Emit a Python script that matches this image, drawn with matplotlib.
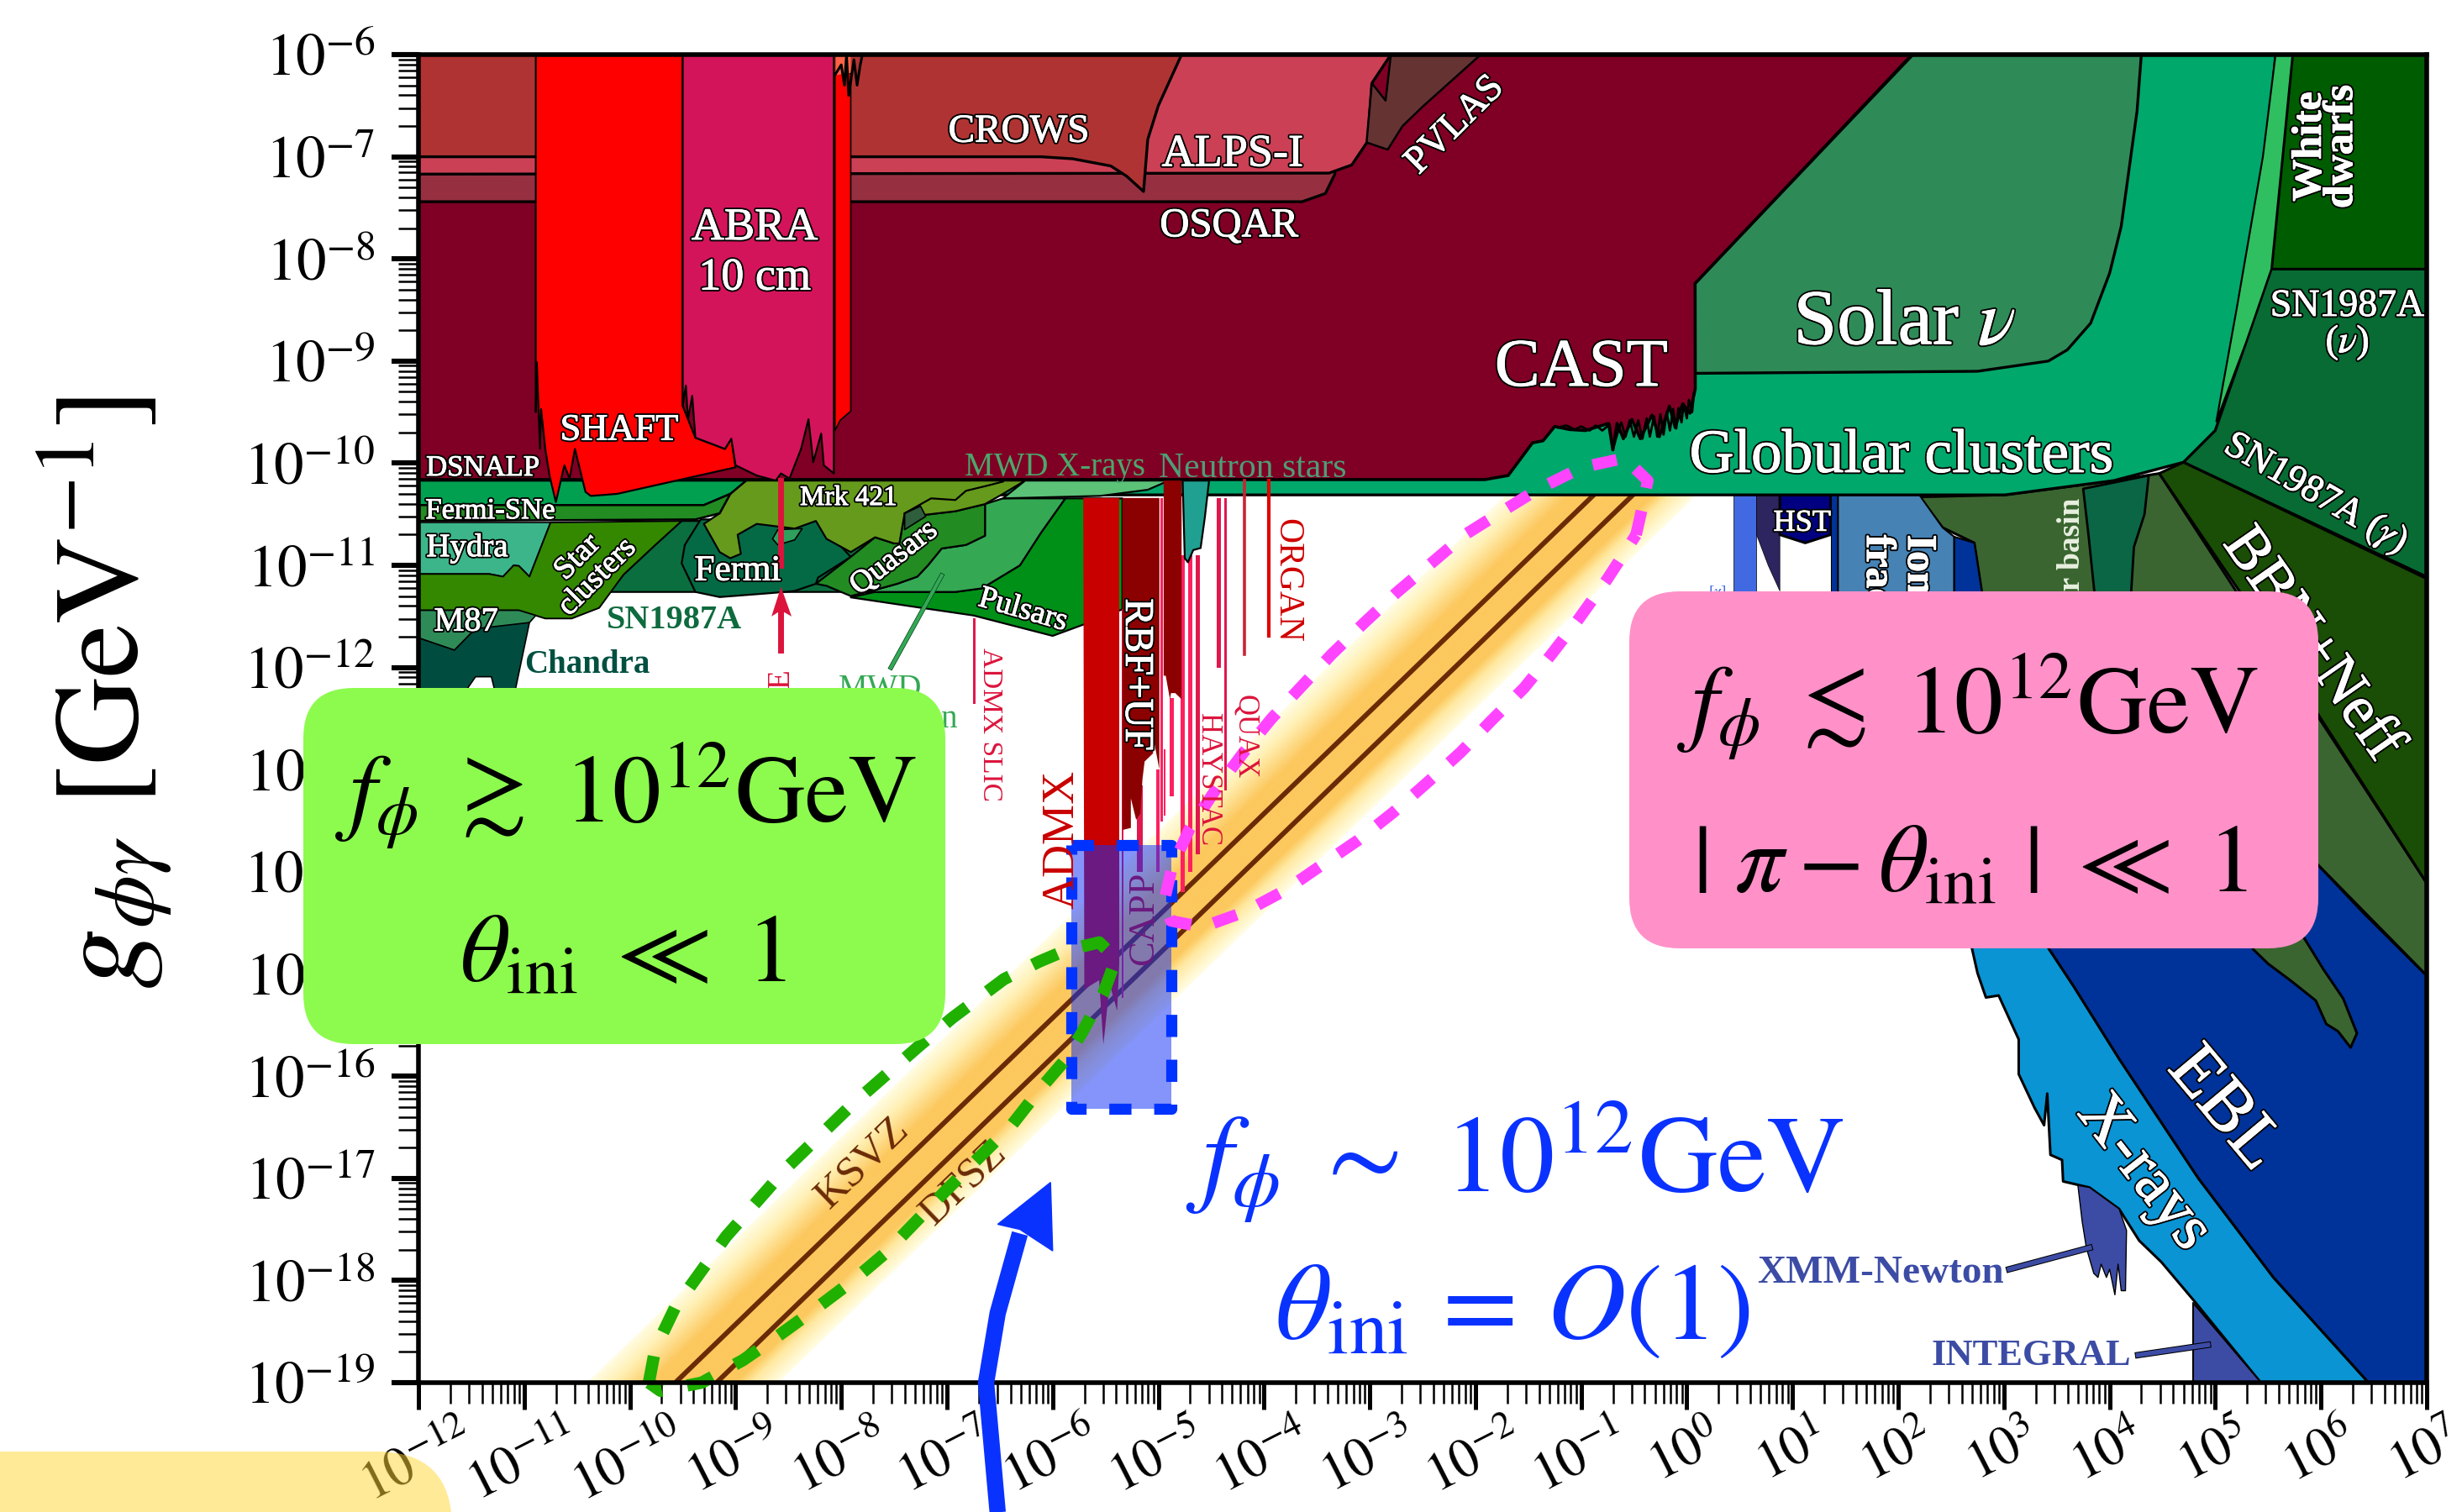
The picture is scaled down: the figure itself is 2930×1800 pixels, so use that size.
# Axion-like particle coupling limits with f_phi regions marked on top
import numpy as np
import matplotlib
matplotlib.use("Agg")
import matplotlib.pyplot as plt
import matplotlib.patheffects as pe
from matplotlib.patches import FancyBboxPatch
from matplotlib.ticker import FixedLocator, NullFormatter
from matplotlib.transforms import IdentityTransform

plt.rcParams['font.family'] = ['Liberation Serif', 'DejaVu Serif']
plt.rcParams['mathtext.fontset'] = 'stix'

# everything below is (log10 m, log10 g)
x_exponents = list(range(-12, 8))
y_exponents = list(range(-19, -5))

ksvz_line = [(-9.57, -19.0), (-0.88, -10.31)]
dfsz_line = [(-9.18, -19.0), (-0.51, -10.31)]
band_offsets = [-8.6, -8.85, -9.2, -10.0, -10.15, -10.4]
band_colors = ['#fffde4', '#ffefb0', '#fcc75a', '#fcc75a', '#ffe9a0', '#fffde4']

globular = [(-12, -6), (5.57, -6), (5.4, -8.0), (5.29, -8.82), (5.0, -9.68), (4.7, -9.99), (4.04, -10.17),
            (3.01, -10.31), (-12, -10.31)]
wd_strip = [(5.57, -6), (5.73, -6), (5.53, -8.1), (5.29, -8.82), (5.01, -9.59), (5.2, -8.5), (5.45, -7.0)]
white_dwarfs = [(5.73, -6), (7.1, -6), (7.1, -8.1), (5.53, -8.1)]
sn_nu = [(5.53, -8.1), (7.1, -8.1), (7.1, -11.16), (4.7, -9.99), (5.0, -9.68), (5.29, -8.82)]
bbn = [(4.7, -9.99), (7.1, -11.18), (7.1, -14.27), (5.98, -12.47), (5.24, -11.27), (4.47, -10.1)]
solar_nu = [(2.14, -6), (4.3, -6), (4.26, -6.55), (4.11, -7.68), (4.0, -8.14), (3.82, -8.63), (3.6, -8.89),
            (3.42, -9.0), (2.75, -9.1), (0.078, -9.12), (0.078, -8.24)]
cast = [(-12, -6), (2.13, -6), (0.078, -8.24), (0.08, -9.27), (0.03, -9.51), (-0.04, -9.42), (-0.11, -9.65),
        (-0.165, -9.44), (-0.26, -9.74), (-0.33, -9.53), (-0.44, -9.76), (-0.52, -9.57), (-0.6, -9.76),
        (-0.66, -9.61), (-0.7, -9.87), (-0.74, -9.61), (-0.96, -9.68), (-1.11, -9.67), (-1.25, -9.64),
        (-1.36, -9.78), (-1.46, -9.8), (-1.69, -10.12), (-1.91, -10.16), (-12, -10.16)]
cast_noise = [(0.07, -9.3), (0.05, -9.5), (0.02, -9.38), (0.0, -9.56), (-0.03, -9.42), (-0.05, -9.6), (-0.08, -9.46),
              (-0.1, -9.66), (-0.13, -9.47), (-0.16, -9.68), (-0.19, -9.5), (-0.22, -9.72), (-0.25, -9.52),
              (-0.28, -9.74), (-0.31, -9.54), (-0.35, -9.74), (-0.38, -9.56), (-0.42, -9.76), (-0.46, -9.58),
              (-0.5, -9.74), (-0.54, -9.58), (-0.58, -9.74), (-0.62, -9.6), (-0.66, -9.72), (-0.7, -9.87), (-0.73, -9.62),
              (-0.8, -9.68), (-0.86, -9.63), (-0.92, -9.68), (-1.0, -9.64), (-1.06, -9.67), (-1.14, -9.63), (-1.22, -9.65)]
osqar = [(-12, -7.0), (-3.33, -7.0), (-3.33, -7.17), (-3.42, -7.36), (-3.64, -7.44), (-12, -7.44)]
alps = [(-12, -6), (-2.8, -6), (-2.98, -6.28), (-3.02, -6.85), (-3.17, -7.08), (-3.385, -7.16), (-12, -7.17)]
crows = [(-12, -6), (-4.78, -6), (-5.0, -6.5), (-5.1, -6.83), (-5.14, -7.34), (-5.3, -7.19), (-5.45, -7.09),
         (-5.81, -7.02), (-6.11, -7.0), (-12, -7.0)]
pvlas = [(-2.8, -6), (-1.95, -6), (-2.5, -6.51), (-2.69, -6.7), (-2.83, -6.93), (-3.03, -6.86), (-2.98, -6.28),
         (-2.85, -6.45)]

shaft = [(-10.89, -6), (-9.5, -6), (-9.5, -9.44), (-9.38, -9.75), (-9.1, -9.86), (-9.04, -9.76), (-9.0, -10.04),
         (-9.56, -10.17), (-10.12, -10.3), (-10.37, -10.32), (-10.42, -10.28), (-10.52, -9.86), (-10.57, -10.15),
         (-10.62, -10.02), (-10.7, -10.38), (-10.76, -10.12), (-10.8, -9.86), (-10.84, -9.47), (-10.85, -9.86),
         (-10.88, -9.01), (-10.89, -9.5)]
abra = [(-9.5, -6), (-8.07, -6), (-8.07, -10.1), (-8.165, -10.02), (-8.19, -9.71), (-8.265, -9.99), (-8.31, -9.57),
        (-8.38, -9.86), (-8.49, -10.15), (-8.57, -10.1), (-8.62, -10.17), (-8.8, -10.12), (-9.0, -10.02),
        (-9.04, -9.76), (-9.1, -9.86), (-9.38, -9.75), (-9.41, -9.34), (-9.45, -9.57), (-9.47, -9.24), (-9.5, -9.44)]
red_sliver = [(-8.06, -6.18), (-7.91, -6.18), (-7.91, -9.49), (-8.01, -9.58), (-8.06, -9.68)]
orange_top = [(-8.05, -6), (-7.91, -6), (-7.91, -6.18), (-8.05, -6.2)]
top_jag = [(-8.06, -6.2), (-8.0, -6.1), (-7.97, -6.3), (-7.95, -6.0), (-7.93, -6.4), (-7.88, -6.05), (-7.85, -6.3),
           (-7.82, -6.1), (-7.8, -6.0)]

fermi_top = [(-12, -10.17), (-8.9, -10.17), (-9.05, -10.30), (-9.3, -10.41), (-12, -10.41)]
fermi_sne = [(-12, -10.41), (-9.3, -10.41), (-9.05, -10.30), (-9.15, -10.49), (-9.38, -10.55), (-12, -10.565)]
hydra = [(-12, -10.58), (-10.75, -10.58), (-10.95, -11.11), (-11.05, -11.005), (-11.1, -11.0), (-11.2, -11.11),
         (-11.33, -11.084), (-12, -11.084)]
star_clusters = [(-10.75, -10.58), (-9.51, -10.565), (-9.76, -10.8), (-10.06, -11.09), (-10.29, -11.416),
                 (-10.55, -11.52), (-10.8, -11.52), (-11.05, -11.44), (-12, -11.44), (-12, -11.084),
                 (-11.33, -11.084), (-11.2, -11.11), (-11.1, -11.0), (-11.05, -11.005), (-10.95, -11.11)]
m87 = [(-12, -11.44), (-11.05, -11.44), (-10.89, -11.49), (-10.95, -11.56), (-11.23, -11.62), (-11.46, -11.62),
       (-11.66, -11.83), (-12, -11.71)]
chandra = [(-12, -11.71), (-11.66, -11.83), (-11.46, -11.62), (-10.95, -11.56), (-11.1, -12.3), (-11.26, -12.3),
           (-11.31, -12.09), (-11.46, -12.09), (-11.6, -12.3), (-12, -12.3)]
sn1987a = [(-9.51, -10.565), (-7.9, -10.565), (-7.0, -11.26), (-10.19, -11.26), (-10.06, -11.09), (-9.76, -10.8)]
fermi = [(-9.48, -10.8), (-9.51, -10.98), (-9.38, -11.26), (-9.15, -11.31), (-8.65, -11.27), (-8.44, -11.25),
         (-8.24, -11.18), (-8.22, -11.12), (-7.91, -10.917), (-8.24, -10.55), (-9.33, -10.55)]
mrk421 = [(-8.9, -10.17), (-6.26, -10.17), (-6.47, -10.3), (-6.64, -10.4), (-6.92, -10.47), (-7.25, -10.51),
          (-7.28, -10.45), (-7.4, -10.49), (-7.45, -10.785), (-7.5, -10.785), (-7.68, -10.725), (-7.91, -10.87),
          (-8.14, -10.74), (-8.24, -10.565), (-8.44, -10.64), (-8.8, -10.594), (-8.98, -10.7), (-8.95, -10.887),
          (-9.05, -10.93), (-9.15, -10.87), (-9.3, -10.594), (-9.15, -10.49), (-9.05, -10.30)]
mrk_inner = [(-7.4, -10.49), (-7.15, -10.344), (-6.92, -10.36), (-6.82, -10.27), (-6.62, -10.22), (-6.47, -10.18)]
small_patch = [(-8.6, -10.65), (-8.65, -10.74), (-8.6, -10.8), (-8.44, -10.75), (-8.37, -10.64)]
quasars = [(-8.24, -11.18), (-7.91, -10.917), (-7.68, -10.725), (-7.5, -10.785), (-7.45, -10.785), (-7.4, -10.49),
           (-7.25, -10.51), (-6.92, -10.47), (-6.64, -10.4), (-6.64, -10.71), (-6.82, -10.8), (-7.05, -10.835),
           (-7.18, -11.0), (-7.28, -11.11), (-7.47, -11.18), (-7.68, -11.24), (-7.91, -11.3), (-8.14, -11.2)]
dark_patch = [(-7.4, -10.49), (-7.25, -10.42), (-7.2, -10.52), (-7.4, -10.65)]
mwd = [(-6.47, -10.344), (-5.88, -10.344), (-6.11, -10.68), (-6.31, -11.0), (-6.67, -11.225), (-6.92, -11.26),
       (-7.84, -11.26), (-7.68, -11.24), (-7.47, -11.18), (-7.28, -11.11), (-7.18, -11.0), (-7.05, -10.835),
       (-6.82, -10.8), (-6.64, -10.71), (-6.64, -10.4)]
pulsars = [(-5.88, -10.344), (-5.34, -10.344), (-5.34, -11.43), (-5.71, -11.58), (-6.0, -11.69), (-6.75, -11.49),
           (-7.24, -11.416), (-7.91, -11.313), (-7.68, -11.26), (-6.92, -11.26), (-6.67, -11.225), (-6.31, -11.0),
           (-6.11, -10.68)]
mwd_xrays = [(-6.26, -10.17), (-4.9, -10.17), (-5.1, -10.26), (-5.55, -10.32), (-6.47, -10.344)]

admx = [(-5.71, -10.34), (-5.37, -10.34), (-5.37, -14.9), (-5.39, -15.36), (-5.46, -15.1), (-5.52, -15.69),
        (-5.56, -15.06), (-5.7, -15.15)]
rbf = [(-5.34, -10.34), (-4.99, -10.34), (-4.99, -13.0), (-5.05, -12.67), (-5.05, -12.84), (-5.13, -12.92),
       (-5.15, -13.09), (-5.17, -13.43), (-5.21, -13.49), (-5.26, -13.28), (-5.26, -13.57), (-5.34, -13.59)]
rbf2 = [(-4.95, -10.17), (-4.78, -10.17), (-4.78, -12.31), (-4.84, -12.25), (-4.88, -12.25), (-4.89, -12.31),
        (-4.93, -12.08), (-4.95, -12.08)]
neutron_stars = [(-4.77, -10.17), (-4.52, -10.17), (-4.56, -10.53), (-4.6, -10.83), (-4.67, -10.85), (-4.72, -10.97),
                 (-4.75, -10.93)]

# haloscope strips: left, right, top, bottom
strip_lo = [-4.98, -4.95, -4.89, -4.79, -4.72, -4.65, -4.45, -4.38, -5.2, -5.02, -5.35, -6.75]
strip_hi = [-4.957, -4.93, -4.85, -4.75, -4.68, -4.61, -4.41, -4.35, -5.15, -4.99, -5.33, -6.73]
strip_top = [-10.34, -12.8, -12.3, -10.9, -10.9, -10.9, -10.34, -10.34, -13.15, -13.0, -11.43, -11.52]
strip_bottom = [-13.51, -13.45, -13.26, -14.2, -14.0, -13.83, -12.0, -13.2, -14.0, -14.0, -15.23, -12.36]
quax_line = [(-4.185, -10.17), (-4.185, -11.87)]
organ_line = [(-3.955, -10.17), (-3.955, -11.69)]
base_line = [(-8.57, -10.17), (-8.57, -11.0)]
base_arrow_shaft = [(-8.57, -11.83), (-8.57, -11.4)]
base_arrow_head = [(-8.57, -11.21), (-8.66, -11.5), (-8.57, -11.44), (-8.47, -11.5)]
mwd_leader = [(-7.05, -11.1), (-7.53, -12.0)]

royal_strip = [(0.44, -10.31), (0.66, -10.31), (0.66, -11.5), (0.44, -11.5)]
dark_strip = [(0.66, -10.31), (0.88, -10.31), (0.88, -11.25), (0.77, -11.0), (0.66, -10.7)]
hst = [(0.88, -10.31), (1.36, -10.31), (1.36, -10.7), (1.12, -10.78), (0.88, -10.7)]
navy_strip = [(1.36, -10.31), (1.43, -10.31), (1.43, -11.5), (1.36, -11.5)]
ion_frac = [(1.43, -10.31), (2.2, -10.31), (2.42, -10.63), (2.53, -10.72), (2.53, -11.5), (1.43, -11.5)]
cobalt = [(2.53, -10.72), (2.72, -10.78), (2.79, -11.25), (2.85, -11.5), (2.53, -11.5)]
telescopes = [(2.2, -10.33), (3.01, -10.31), (4.04, -10.17), (4.47, -10.1), (7.1, -14.27), (7.1, -15.12),
              (5.98, -13.94), (5.0, -13.0), (3.5, -13.0), (2.9, -12.0), (2.72, -10.78), (2.42, -10.63)]
teal_strip = [(3.75, -10.25), (4.37, -10.12), (4.33, -10.5), (4.23, -10.82), (4.19, -11.5), (3.88, -11.5), (3.8, -10.7)]
tongue = [(5.0, -14.0), (5.36, -14.76), (5.5, -14.9), (5.72, -15.07), (5.95, -15.26), (6.05, -15.49), (6.16, -15.56),
          (6.28, -15.72), (6.34, -15.58), (6.21, -15.24), (6.02, -14.95), (5.83, -14.63), (5.6, -14.0)]
ebl = [(3.0, -14.0), (3.43, -14.76), (3.66, -15.12), (4.09, -15.83), (4.84, -17.0), (5.55, -17.97), (6.45, -19.0),
       (7.1, -19.0), (7.1, -15.12), (6.4, -14.4), (5.98, -13.94), (5.5, -13.5), (3.0, -13.5)]
xrays = [(2.5, -14.0), (2.7, -14.76), (2.75, -14.99), (2.83, -15.23), (2.95, -15.21), (3.14, -15.64), (3.14, -15.98),
         (3.29, -16.31), (3.38, -16.48), (3.41, -16.17), (3.44, -16.77), (3.55, -16.82), (3.56, -17.03), (3.81, -17.09),
         (4.09, -17.3), (4.28, -17.61), (4.49, -17.82), (4.8, -18.2), (5.43, -19.0), (6.45, -19.0), (5.55, -17.97),
         (4.84, -17.0), (4.09, -15.83), (3.66, -15.12), (3.43, -14.76), (3.0, -14.0)]
xmm = [(3.7, -17.07), (3.74, -17.42), (3.78, -17.68), (3.85, -17.93), (3.89, -17.97), (3.92, -17.84), (3.97, -17.97),
       (4.0, -17.89), (4.05, -18.14), (4.08, -17.84), (4.11, -18.1), (4.15, -18.1), (4.16, -17.51), (4.09, -17.3),
       (3.81, -17.09)]
integral = [(4.79, -18.22), (4.79, -19.0), (5.43, -19.0)]
xmm_leader = [(3.05, -17.89), (3.81, -17.68)]
integral_leader = [(4.27, -18.73), (4.93, -18.63)]

blue_rect = [(-5.82, -13.74), (-4.88, -13.74), (-4.88, -16.32), (-5.82, -16.32)]
green_oval = [(-9.82, -19.0), (-9.76, -18.67), (-9.57, -18.26), (-9.09, -17.57), (-8.51, -16.89), (-7.9, -16.28),
              (-7.27, -15.71), (-6.95, -15.43), (-6.46, -15.05), (-6.13, -14.88), (-5.88, -14.77), (-5.56, -14.69),
              (-5.4, -14.85), (-5.52, -15.19), (-5.72, -15.57), (-5.88, -15.84), (-6.13, -16.14), (-6.38, -16.47),
              (-7.02, -17.13), (-7.58, -17.73), (-7.9, -18.01), (-8.26, -18.29), (-8.58, -18.53), (-8.93, -18.78),
              (-9.32, -19.0), (-9.71, -19.08), (-9.82, -19.0)]
magenta_oval = [(-0.48, -10.7), (-0.41, -10.38), (-0.37, -10.17), (-0.59, -9.95), (-0.99, -10.04), (-1.4, -10.25),
                (-1.73, -10.46), (-2.1, -10.7), (-2.43, -10.99), (-2.75, -11.27), (-3.05, -11.56), (-3.36, -11.87),
                (-3.65, -12.19), (-3.93, -12.5), (-4.2, -12.84), (-4.46, -13.2), (-4.7, -13.57), (-4.87, -13.95),
                (-4.95, -14.31), (-4.88, -14.48), (-4.58, -14.54), (-4.18, -14.39), (-3.8, -14.18), (-3.45, -13.93),
                (-3.11, -13.69), (-2.78, -13.42), (-2.46, -13.13), (-2.14, -12.83), (-1.85, -12.52), (-1.54, -12.2),
                (-1.28, -11.87), (-1.02, -11.52), (-0.75, -11.13), (-0.48, -10.7)]
arrow_shaft = [(-6.52, -20.27), (-6.63, -19.0), (-6.52, -18.32), (-6.31, -17.54)]
arrow_head = [(-6.02, -17.04), (-6.52, -17.45), (-6.31, -17.5), (-6.0, -17.71)]

fig = plt.figure(figsize=(29.3, 18), dpi=100)
ax = fig.add_axes([498 / 2930, 154 / 1800, 2390 / 2930, 1581 / 1800])
ax.set_xscale('log')
ax.set_yscale('log')
ax.set_xlim(1e-12, 1e7)
ax.set_ylim(1e-19, 1e-6)


def unpack(pts):
    a = np.array(pts, dtype=float)
    return 10.0 ** a[:, 0], 10.0 ** a[:, 1]


def region(pts, color, lw=2.0, z=3):
    x, y = unpack(pts)
    ax.fill(x, y, facecolor=color, edgecolor='black', linewidth=lw, zorder=z, joinstyle='round')


def flat(pts, color, z=3):
    x, y = unpack(pts)
    ax.fill(x, y, facecolor=color, edgecolor='none', zorder=z)


def line(pts, color='black', lw=2.0, z=4, **kw):
    x, y = unpack(pts)
    ax.plot(x, y, color=color, linewidth=lw, zorder=z, **kw)


def label(lm, lg, s, size, rot=0, color='white', outline=True, weight='normal', z=9, **kw):
    if rot == 0:
        lg = lg - 0.04
    t = ax.text(10.0 ** lm, 10.0 ** lg, s, fontsize=size, rotation=rot, color=color, fontweight=weight,
                ha=kw.pop('ha', 'center'), va=kw.pop('va', 'center'), rotation_mode='anchor', zorder=z,
                linespacing=kw.pop('linespacing', 0.95), multialignment='center', **kw)
    if outline:
        t.set_path_effects([pe.withStroke(linewidth=3.4, foreground='black'),
                            pe.withStroke(linewidth=0.7, foreground=color)])


# KSVZ/DFSZ band, blended across the offsets
off = np.array(band_offsets)
rgb = np.array([matplotlib.colors.to_rgb(c) for c in band_colors])
steps = np.linspace(off[0], off[-1], 70)
span = np.array([-12.0, 3.0])
for a, b in zip(steps[:-1], steps[1:]):
    mid = 0.5 * (a + b)
    col = [np.interp(-mid, -off, rgb[:, i]) for i in range(3)]
    ax.fill_between(10.0 ** span, 10.0 ** (span + a), 10.0 ** (span + b), color=col, linewidth=0.3, zorder=1)
line(ksvz_line, '#6b2a06', 4.2, z=2)
line(dfsz_line, '#6b2a06', 4.2, z=2)

# right hand side
region(xrays, '#0a94d4', 2.2)
region(ebl, '#003399', 2.2)
region(telescopes, '#3a6530', 2.2)
region(tongue, '#3a6530', 2.2)
region(teal_strip, '#0a6644', 2.0)
region(bbn, '#1a4d05', 2.2)
region(royal_strip, '#4169e1', 0.5)
region(dark_strip, '#2c2560', 0.5)
region(hst, '#000080', 2.2)
region(navy_strip, '#003399', 0.8)
region(ion_frac, '#4682b4', 1.5)
region(cobalt, '#003399', 1.5)
region(xmm, '#3c4ca5', 1.0)
region(integral, '#3c4ca5', 1.5)
line(xmm_leader, '#3c4ca5', 4.0, path_effects=[pe.withStroke(linewidth=5.5, foreground='black')])
line(integral_leader, '#3c4ca5', 4.0, path_effects=[pe.withStroke(linewidth=5.5, foreground='black')])

# stellar and helioscope limits
region(globular, '#00a86b', 2.4)
region(white_dwarfs, '#005c00', 2.2)
region(sn_nu, '#076b33', 2.2)
region(wd_strip, '#2fbf60', 1.6)
region(solar_nu, '#2e8b57', 2.4)
region(cast, '#7f0024', 2.6)
line(cast_noise, lw=2.0, z=3)
region(osqar, '#963040', 2.4)
region(alps, '#cc4055', 2.4)
region(crows, '#b03333', 2.4)
region(pvlas, '#663333', 1.8)

# low mass gamma-ray and x-ray bounds
region(sn1987a, '#0b6e3f', 1.6)
region(fermi, '#046a45', 1.6)
region(pulsars, '#009018', 1.6)
region(mwd, '#35a854', 1.6)
region(quasars, '#228b22', 1.6)
region(mrk421, '#669a1c', 1.6)
line(mrk_inner, lw=1.6)
region(small_patch, '#2ea05e', 1.2)
region(dark_patch, '#2e5e3c', 1.2)
region(mwd_xrays, '#5bc278', 1.6)
region(fermi_top, '#00a050', 1.8)
region(fermi_sne, '#228b22', 1.8)
region(hydra, '#3cb58a', 1.2)
region(star_clusters, '#338800', 1.4)
region(m87, '#2e8b57', 1.2)
region(chandra, '#004d3f', 1.2)

# haloscopes
region(shaft, '#ff0000', 1.6, z=4)
region(abra, '#d4145a', 1.6, z=4)
region(red_sliver, '#ff0000', 1.2, z=4)
flat(orange_top, '#ff6347', z=4)
line(top_jag, lw=2.2, z=4)

strip_colors = ['#ff2060', '#ff2060', '#ff2060', '#ff2060', '#ff2060', '#e0184d', '#e0184d', '#e0184d', '#e0184d',
                '#ff2060', '#e0184d', '#e0184d']
for lo, hi, t, b, c in zip(strip_lo, strip_hi, strip_top, strip_bottom, strip_colors):
    ax.fill_between(10.0 ** np.array([lo, hi]), 10.0 ** b, 10.0 ** t, color=c, linewidth=0, zorder=4)
flat(admx, '#c90000', z=5)
flat(rbf, '#8b0000', z=5)
flat(rbf2, '#8b0000', z=5)
region(neutron_stars, '#20a090', 1.6, z=5)
line(quax_line, '#cc2233', 2.6)
line(organ_line, '#e00000', 3.0)
line(base_line, '#dc143c', 5.0, z=5)
line(base_arrow_shaft, '#dc143c', 5.0, z=5)
flat(base_arrow_head, '#dc143c', z=5)
line(mwd_leader, '#35a854', 3.0, z=5, path_effects=[pe.withStroke(linewidth=4.0, foreground='#004020')])

# white labels
label(-6.32, -6.72, 'CROWS', 34)
label(-4.30, -6.94, 'ALPS-I', 39)
label(-4.33, -7.64, 'OSQAR', 35)
label(-2.19, -6.69, 'PVLAS', 33, rot=45)
label(-8.82, -7.66, 'ABRA', 39)
label(-8.82, -8.15, '10 cm', 39)
label(-10.1, -9.64, 'SHAFT', 32)
label(-11.39, -10.01, 'DSNALP', 25)
label(-5.98, -10.0, 'MWD X-rays', 28, color='#4ca76c', outline=False)
label(-4.11, -10.01, 'Neutron stars', 30, color='#4f9d77', outline=False)
label(-7.93, -10.3, 'Mrk 421', 24)
label(-11.32, -10.43, 'Fermi-SNe', 25)
label(-11.54, -10.79, 'Hydra', 28)
label(-10.4, -11.02, 'Star\nclusters', 27, rot=45)
label(-8.98, -11.02, 'Fermi', 31)
label(-7.5, -10.93, 'Quasars', 27, rot=38)
label(-6.28, -11.44, 'Pulsars', 27, rot=-16)
label(-11.55, -11.52, 'M87', 29)
label(-9.58, -11.5, 'SN1987A', 29, color='#0e6b3e', outline=False, weight='bold')
label(-10.4, -11.93, 'Chandra', 28, color='#005040', outline=False, weight='bold')
label(-6.59, -12.56, 'ADMX SLIC', 24, rot=-90, color='#dc143c', outline=False)
label(-5.91, -13.68, 'ADMX', 39, rot=90, color='#c90000', outline=False)
label(-5.21, -12.07, 'RBF+UF', 35, rot=-90)
label(-4.53, -13.1, 'HAYSTAC', 25, rot=-90, color='#dc143c', outline=False)
label(-4.18, -12.68, 'QUAX', 25, rot=-90, color='#dc143c', outline=False)
label(-5.135, -14.455, 'CAPP', 32, rot=90, color='#c90000', outline=False, z=5)
label(-3.78, -11.15, 'ORGAN', 30, rot=-90, color='#d00000', outline=False)
label(-8.57, -12.4, 'BASE', 27, rot=90, color='#dc143c', outline=False)
label(-7.63, -12.32, 'MWD\npolarisation', 28, color='#35a854', outline=False)
label(-1.0, -9.04, 'CAST', 58)
label(2.06, -8.61, r'Solar $\nu$', 67)
label(2.03, -9.9, 'Globular clusters', 53)
label(6.05, -6.9, 'White\ndwarfs', 36, rot=90, weight='bold', linespacing=0.75)
label(6.25, -8.61, 'SN1987A\n' + r'($\nu$)', 33)
label(5.95, -10.3, r'SN1987A ($\gamma$)', 33, rot=-30)
label(5.91, -11.78, 'BBN+Neff', 52, rot=-55)
label(1.09, -10.55, 'HST', 26)
label(2.19, -10.70, 'Ion', 36, rot=-90, ha='left', weight='bold')
label(1.8, -10.70, 'fraction', 36, rot=-90, ha='left', weight='bold')
label(3.64, -10.34, 'Solar basin', 27, rot=90, ha='right', weight='bold', color='#e8f0e0', outline=False)
label(0.29, -11.23, r'[$\gamma$]', 14, color='#4169e1', outline=False)
label(5.08, -16.33, 'EBL', 62, rot=-50)
label(4.32, -16.95, 'X-rays', 56, rot=-52)
label(1.83, -17.89, 'XMM-Newton', 34, color='#3c4ca5', outline=False, weight='bold')
label(3.26, -18.7, 'INTEGRAL', 32, color='#3c4ca5', outline=False, weight='bold')
label(-7.8, -16.85, 'KSVZ', 37, rot=44, color='#6b2a06', outline=False, z=3)
label(-6.84, -17.05, 'DFSZ', 36, rot=44, color='#6b2a06', outline=False, z=3)

# the f_phi ~ 10^12 GeV window and the two ovals
x, y = unpack(blue_rect)
ax.fill(x, y, facecolor=(19 / 255, 50 / 255, 246 / 255), alpha=0.52, edgecolor='none', zorder=7)
x, y = unpack(blue_rect + blue_rect[:1])
ax.plot(x, y, color='#0033ff', linewidth=9.5, linestyle=(0, (2.0, 2.05)), dash_capstyle='butt', zorder=8, clip_on=False)
x, y = unpack(green_oval)
ax.plot(x, y, color='#1fb000', linewidth=10.5, linestyle=(0, (2.2, 2.1)), dash_capstyle='butt', zorder=8, clip_on=False)
x, y = unpack(magenta_oval)
ax.plot(x, y, color='#ff44ff', linewidth=10.0, linestyle=(0, (2.1, 2.0)), dash_capstyle='butt', zorder=8)

x, y = unpack(arrow_shaft)
ax.plot(x, y, color='#0a32ff', linewidth=14, zorder=20, clip_on=False, solid_capstyle='butt')
x, y = unpack(arrow_head)
ax.fill(x, y, color='#0a32ff', zorder=20, clip_on=False)

# axes
for side in ax.spines.values():
    side.set_linewidth(4.0)
    side.set_zorder(10)
minor_x = [10.0 ** e * k for e in x_exponents[:-1] for k in range(2, 10)]
minor_y = [10.0 ** e * k for e in y_exponents[:-1] for k in range(2, 10)]
ax.xaxis.set_major_locator(FixedLocator([10.0 ** e for e in x_exponents]))
ax.yaxis.set_major_locator(FixedLocator([10.0 ** e for e in y_exponents]))
ax.xaxis.set_minor_locator(FixedLocator(minor_x))
ax.yaxis.set_minor_locator(FixedLocator(minor_y))
ax.xaxis.set_minor_formatter(NullFormatter())
ax.yaxis.set_minor_formatter(NullFormatter())
ax.set_xticklabels([r'$10^{%d}$' % e for e in x_exponents], rotation=27, ha='center', fontsize=46)
ax.set_yticklabels([r'$10^{%d}$' % e for e in y_exponents], fontsize=51)
ax.tick_params(axis='x', which='major', length=23, width=3.6, pad=5, direction='out')
ax.tick_params(axis='x', which='minor', length=18, width=1.8, direction='out')
ax.tick_params(axis='y', which='major', length=23, width=4.4, pad=14, direction='out')
ax.tick_params(axis='y', which='minor', length=17, width=1.8, direction='out')

# boxes sit over the axes, in figure pixels
def box(x0, y0, x1, y1, color, rad=60, alpha=1.0, z=1):
    p = FancyBboxPatch((x0 + rad, 1800 - y1 + rad), x1 - x0 - 2 * rad, y1 - y0 - 2 * rad,
                       boxstyle='round,pad=%d,rounding_size=%d' % (rad, rad), transform=IdentityTransform(),
                       facecolor=color, edgecolor='none', alpha=alpha, zorder=z)
    fig.add_artist(p)


def fig_text(px, py, s, size, color='black', rot=0):
    fig.text(px / 2930, 1 - py / 1800, s, fontsize=size, color=color, rotation=rot, ha='center', va='baseline',
             rotation_mode='anchor', zorder=3)


box(361, 819, 1125, 1243, '#8dfb4e')
box(1939, 704, 2759, 1129, '#ff91c8')
box(-200, 1728, 538, 1990, '#ffd633', rad=90, alpha=0.5)

fig_text(745, 979, r'$f_\phi\ \gtrsim\ 10^{12}\mathrm{GeV}$', 83)
fig_text(742, 1168, r'$\theta_{\mathrm{ini}}\ \ll\ 1$', 83)
fig_text(2342, 873, r'$f_\phi\ \lesssim\ 10^{12}\mathrm{GeV}$', 83)
fig_text(2345, 1061, r'$|\ \pi-\theta_{\mathrm{ini}}\ |\ \ll\ 1$', 83)
fig_text(1803, 1420, r'$f_\phi\ \sim\ 10^{12}\mathrm{GeV}$', 94, color='#0a32ff')
fig_text(1800, 1594, r'$\theta_{\mathrm{ini}}\,=\,O(1)$', 94, color='#0a32ff')
fig.text(165 / 2930, 1 - 824 / 1800, r'$g_{\phi\gamma}\ [\mathrm{GeV}^{-1}]$', fontsize=104, rotation=90,
         ha='center', va='baseline', rotation_mode='anchor', zorder=3)

fig.savefig('out.png', dpi=100, facecolor='white')
